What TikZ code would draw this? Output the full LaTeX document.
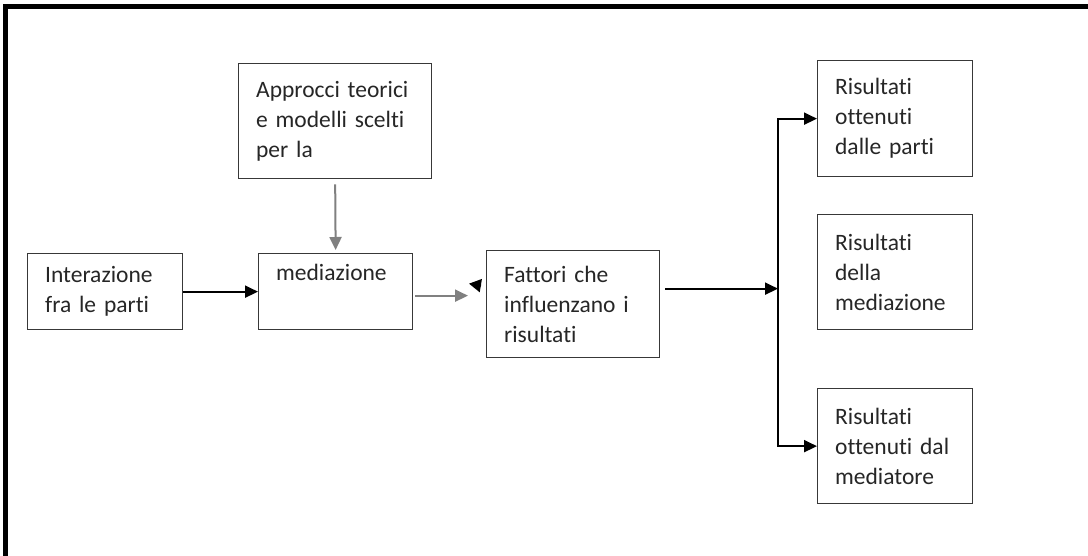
\documentclass[tikz,border=0pt]{standalone}
\usepackage{fontspec}
\setmainfont{Carlito}[Ligatures=NoCommon]
\usetikzlibrary{arrows.meta}

\begin{document}
\begin{tikzpicture}[x=1pt,y=-1pt,
    every node/.style={draw=black!78, line width=1.3pt, anchor=north west,
        align=left, inner xsep=17.5pt, inner ysep=0pt, text=black!85,
        font=\fontsize{23.5}{30}\selectfont},
    flow/.style={line width=2pt, -{Triangle[length=13pt,width=12pt]}},
    grey/.style={flow, color=black!50}]
\useasboundingbox (0,0) rectangle (1088,556);

% outer frame (top and left only)
\draw[line width=5pt] (5.5,556) -- (5.5,7) -- (1088,7);

\node[text width=120pt, minimum height=76pt] (inter) at (27,253) {Interazione\\fra le parti};
\node[text width=119pt, minimum height=76pt] (med) at (258,253) {mediazione\\\strut};
\node[text width=158pt, minimum height=115pt] (appr) at (238,63) {Approcci teorici\\e modelli scelti\\per la};
\node[text width=138pt, minimum height=107pt] (fatt) at (486,250) {Fattori che\\influenzano i\\risultati};

\node[text width=120pt, minimum height=116pt] (res1) at (817,60) {Risultati\\ottenuti\\dalle parti};
\node[text width=120pt, minimum height=115pt] (res2) at (817,214) {Risultati\\della\\mediazione};
\node[text width=120pt, minimum height=115pt] (res3) at (817,388) {Risultati\\ottenuti dal\\mediatore};

\coordinate (bus) at (778,0);

\draw[flow] (inter) -- (med);
\draw[grey, shorten <=5pt, shorten >=3pt] (appr.south) -- (med.north);
\draw[grey, shorten <=2pt, shorten >=18pt] ([yshift=-4pt]med.east) -- ([yshift=-4pt]med.east -| fatt.west);
% stray tip in front of the box
\draw[flow, -{Triangle[length=12pt,width=13pt]}] ([shift={(-5pt,18.5pt)}]fatt.west) -- ([shift={(-17pt,20.5pt)}]fatt.west);

\draw[flow, shorten <=5pt] ([yshift=15.5pt]fatt.east) -- ([yshift=15.5pt]fatt.east -| bus);
\draw[flow, {Triangle[length=13pt,width=12pt]}-{Triangle[length=13pt,width=12pt]}]
    (res1.west) -| (bus |- res2) |- (res3.west);
\end{tikzpicture}
\end{document}
